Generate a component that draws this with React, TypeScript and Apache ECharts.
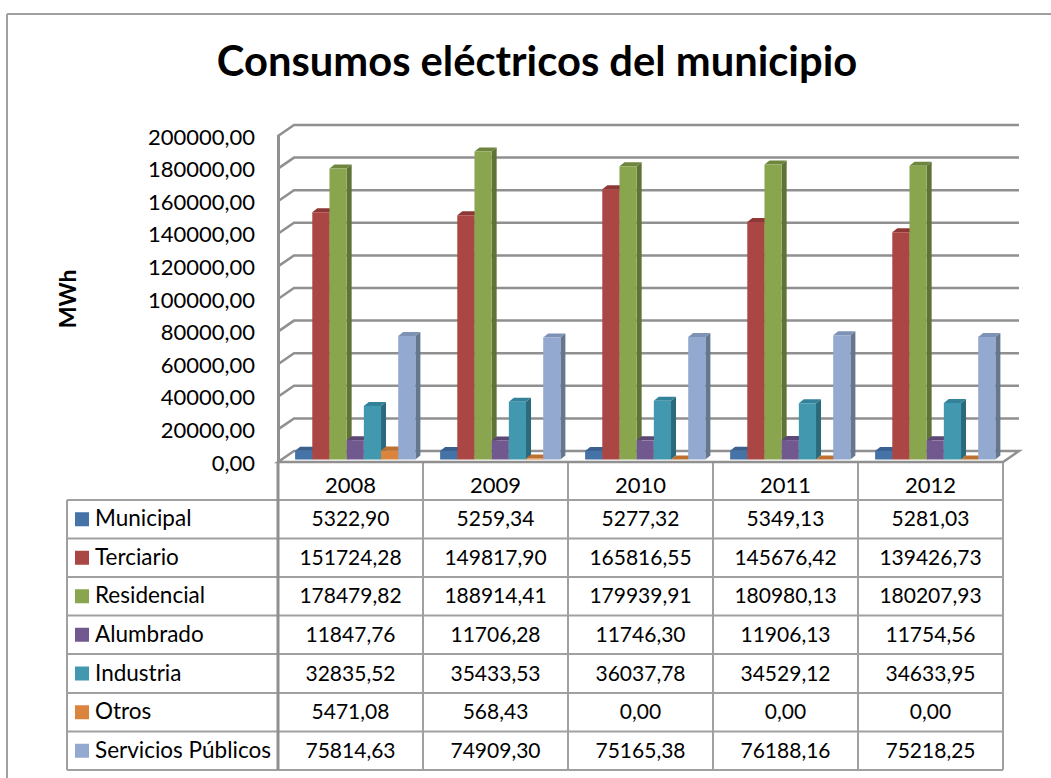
import React, { useEffect, useRef } from "react";
import * as echarts from "echarts";

const titleText = "Consumos eléctricos del municipio";
const axisName = "MWh";
const years = ["2008", "2009", "2010", "2011", "2012"];
const yTicks = [0, 20000, 40000, 60000, 80000, 100000, 120000, 140000, 160000, 180000, 200000];

const municipal = [5322.9, 5259.34, 5277.32, 5349.13, 5281.03];
const terciario = [151724.28, 149817.9, 165816.55, 145676.42, 139426.73];
const residencial = [178479.82, 188914.41, 179939.91, 180980.13, 180207.93];
const alumbrado = [11847.76, 11706.28, 11746.3, 11906.13, 11754.56];
const industria = [32835.52, 35433.53, 36037.78, 34529.12, 34633.95];
const otros = [5471.08, 568.43, 0, 0, 0];
const servicios = [75814.63, 74909.3, 75165.38, 76188.16, 75218.25];

const seriesNames = ["Municipal", "Terciario", "Residencial", "Alumbrado", "Industria", "Otros", "Servicios Públicos"];
const seriesValues = [municipal, terciario, residencial, alumbrado, industria, otros, servicios];
const frontColors = ["#4572A7", "#AA4643", "#89A54E", "#71588F", "#4198AF", "#DB843D", "#93A9CF"];
const sideColors = ["#32527A", "#7B2F2D", "#5F7337", "#4E3D64", "#2A6A7C", "#A8642B", "#64778F"];
const topColors = ["#3A6090", "#8E3836", "#6E853D", "#5C4775", "#33829A", "#BE7030", "#7D92B5"];

const FONT = "Lato";
const GRID_COLOR = "#909090";
const TABLE_COLOR = "#A0A0A0";
const fmt = (v: number) => v.toFixed(2).replace(".", ",");

const LEFT = 278;
const RIGHT = 1003;
const TOP = 136;
const BOTTOM = 462;
const DEPTH_X = 16;
const DEPTH_Y = 11;
const TABLE_LEFT = 67;
const columns = [278, 423, 568, 713, 858, 1003];
const rows = [500, 538.5, 577, 615.5, 654, 693, 731.5, 770];

function buildTable() {
  const out: any[] = [];
  const line = (x1: number, y1: number, x2: number, y2: number, w: number, c = TABLE_COLOR) =>
    out.push({ type: "line", silent: true, shape: { x1, y1, x2, y2 }, style: { stroke: c, lineWidth: w } });
  line(7, 14, 1051, 14, 2);
  line(7, 14, 7, 778, 2);
  rows.forEach((y) => line(TABLE_LEFT, y, RIGHT, y, 2));
  line(TABLE_LEFT, rows[0], TABLE_LEFT, rows[7], 2);
  columns.forEach((x, i) => line(x, BOTTOM, x, rows[7], i === 0 ? 3 : 2, i === 0 ? GRID_COLOR : TABLE_COLOR));
  seriesNames.forEach((name, r) => {
    const cy = (rows[r] + rows[r + 1]) / 2;
    out.push({ type: "rect", silent: true, shape: { x: 75, y: cy - 7, width: 14, height: 14 }, style: { fill: frontColors[r] } });
    out.push({ type: "text", silent: true, style: { text: name, x: 95, y: cy - 1.5, align: "left", verticalAlign: "middle", fontFamily: FONT, fontSize: 22.5, fill: "#000" } });
    seriesValues[r].forEach((v, c) => {
      out.push({
        type: "text",
        silent: true,
        style: { text: fmt(v), x: (columns[c] + columns[c + 1]) / 2, y: cy - 1.5, align: "center", verticalAlign: "middle", fontFamily: FONT, fontSize: 21, fill: "#000" },
      });
    });
  });
  return out;
}

function renderWall(params: any, api: any) {
  const y = api.coord([0, api.value(0)])[1];
  const { x, width } = params.coordSys;
  return {
    type: "polyline",
    silent: true,
    shape: { points: [[x, y], [x + DEPTH_X, y - DEPTH_Y], [x + width + DEPTH_X, y - DEPTH_Y]] },
    style: { stroke: GRID_COLOR, lineWidth: 2.5, fill: "none" },
  };
}

function renderFloor(params: any, api: any) {
  const { x, y, width, height } = params.coordSys;
  const b = y + height;
  return {
    type: "polygon",
    silent: true,
    shape: { points: [[x, b], [x + DEPTH_X, b - DEPTH_Y], [x + width + DEPTH_X, b - DEPTH_Y], [x + width, b]] },
    style: { fill: "#fff", stroke: GRID_COLOR, lineWidth: 2.5 },
  };
}

const makeBar = (idx: number) => (params: any, api: any) => {
  const cat = api.value(0);
  const top = api.coord([cat, api.value(1)]);
  const base = api.coord([cat, 0]);
  const band = api.size([1, 0])[0];
  const w = band * 0.1185;
  const x = top[0] - band / 2 + band * 0.118 + idx * w;
  const yT = top[1] - 2.5;
  const yB = base[1] - 2.5;
  const dx = 5;
  const dy = 4;
  return {
    type: "group",
    silent: true,
    children: [
      {
        type: "polygon",
        shape: { points: [[x + w, yT], [x + w + dx, yT - dy], [x + w + dx, yB - dy], [x + w, yB]] },
        style: { fill: sideColors[idx] },
      },
      {
        type: "polygon",
        shape: { points: [[x, yT], [x + dx, yT - dy], [x + w + dx, yT - dy], [x + w, yT]] },
        style: { fill: topColors[idx] },
      },
      { type: "rect", shape: { x, y: yT, width: w, height: yB - yT }, style: { fill: frontColors[idx] } },
    ],
  };
};

export default function App() {
  const ref = useRef<HTMLDivElement>(null);
  useEffect(() => {
    const chart = echarts.init(ref.current!, null, { renderer: "svg" });
    chart.setOption({
      animation: false,
      backgroundColor: "#fff",
      textStyle: { fontFamily: FONT },
      title: {
        text: titleText,
        left: 532,
        top: 34,
        textAlign: "center",
        textStyle: { fontFamily: FONT, fontWeight: "bold", fontSize: 41.7, color: "#000" },
      },
      grid: { left: LEFT, top: TOP, width: RIGHT - LEFT, height: BOTTOM - TOP },
      xAxis: {
        type: "category",
        data: years,
        axisTick: { show: false },
        axisLine: { show: false },
        axisLabel: { fontFamily: FONT, fontSize: 22, color: "#000", margin: 11 },
      },
      yAxis: {
        type: "value",
        min: 0,
        max: yTicks[yTicks.length - 1],
        interval: yTicks[1],
        name: axisName,
        nameLocation: "middle",
        nameRotate: 90,
        nameGap: 200,
        nameTextStyle: { fontFamily: FONT, fontWeight: "bold", fontSize: 23, color: "#000" },
        axisLine: { show: true, lineStyle: { color: GRID_COLOR, width: 3 } },
        axisTick: { show: false },
        splitLine: { show: false },
        axisLabel: { fontFamily: FONT, fontSize: 22, color: "#000", margin: 23, formatter: (v: number) => fmt(v) },
      },
      graphic: { elements: buildTable() },
      series: [
        { type: "custom", z: 1, silent: true, renderItem: renderWall, data: yTicks.slice(1).map((v) => [v]), encode: { y: 0 }, clip: false },
        { type: "custom", z: 2, silent: true, renderItem: renderFloor, data: [[0]], encode: { y: 0 }, clip: false },
        ...seriesNames.map((name, idx) => ({
          type: "custom",
          name,
          z: 3 + idx,
          silent: true,
          clip: false,
          renderItem: makeBar(idx),
          data: seriesValues[idx].map((v, c) => [c, v]),
          encode: { x: 0, y: 1 },
        })),
      ],
    });
    return () => chart.dispose();
  }, []);
  return <div ref={ref} style={{ position: "fixed", left: 0, top: 0, width: 1051, height: 778 }} />;
}
